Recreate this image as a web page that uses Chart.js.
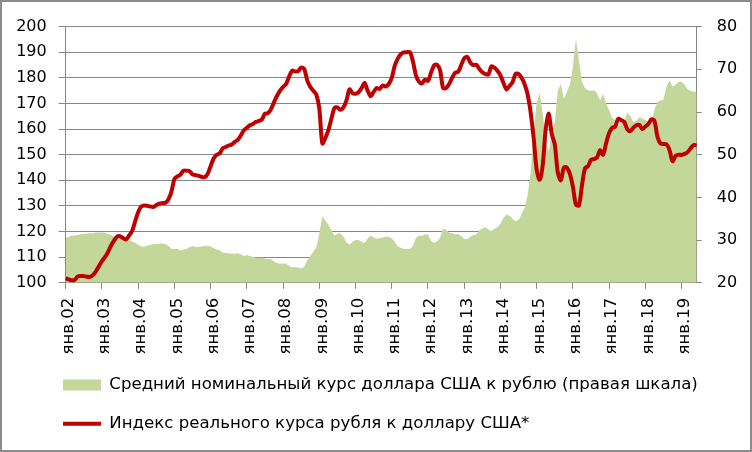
<!DOCTYPE html>
<html>
<head>
<meta charset="utf-8">
<script src="https://cdn.jsdelivr.net/npm/chart.js@4.4.1/dist/chart.umd.min.js"></script>
<style>
    html, body { margin: 0; padding: 0; background: #fff; }
    #wrap { position: absolute; left: 0; top: 0; width: 748px; height: 448px; border: 2px solid #8c8c8c; }
</style>
</head>
<body>
<div id="wrap"><canvas id="myChart"></canvas></div>
<script>
// Подписи месяцев и годов (ось X)
var monthNames = ['янв', 'фев', 'мар', 'апр', 'май', 'июн', 'июл', 'авг', 'сен', 'окт', 'ноя', 'дек'];
var years = ['02', '03', '04', '05', '06', '07', '08', '09', '10', '11', '12', '13', '14', '15', '16', '17', '18', '19'];
var lastYearMonths = 6; // данные по июнь 2019

// Индекс реального курса рубля к доллару США (левая шкала)
var realIndex = [
    101.8, 101.3, 101.0, 101.2, 102.5, 102.7, 102.6, 102.4, 102.3, 103.0, 104.5, 106.5,
    108.5, 110.0, 112.0, 114.5, 116.5, 118.0, 118.2, 117.5, 116.9, 118.5, 120.2, 124.0,
    127.5, 129.8, 130.2, 130.1, 129.8, 129.6, 130.3, 130.9, 131.1, 131.2, 132.5, 135.5,
    140.5, 141.5, 142.2, 143.8, 143.7, 143.6, 142.3, 142.0, 141.8, 141.3, 141.2, 142.5,
    145.5, 148.5, 150.0, 150.5, 152.5, 153.0, 153.6, 154.0, 155.0, 155.8, 157.5, 159.5,
    160.5, 161.5, 162.0, 162.8, 163.2, 163.8, 166.0, 166.2, 167.8, 170.5, 173.0, 175.0,
    176.5, 177.6, 180.5, 182.8, 182.5, 182.6, 184.0, 183.5, 179.0, 176.5, 175.0, 173.5,
    168.0, 154.4, 156.5, 159.6, 164.0, 168.2, 168.5, 167.5, 168.5, 171.2, 175.5, 174.0,
    173.8, 174.4, 176.0, 178.0, 175.0, 172.8, 174.5, 176.0, 175.7, 177.0, 176.6, 177.6,
    180.0, 184.8, 187.5, 189.2, 189.9, 190.0, 190.0, 186.5, 181.0, 178.5, 177.8, 179.3,
    178.8, 182.0, 184.8, 185.1, 183.0, 176.0, 176.0, 177.6, 180.0, 182.0, 182.4, 185.0,
    187.6, 188.2, 186.0, 185.0, 185.1, 183.5, 182.2, 181.5, 181.3, 184.5, 184.0, 182.8,
    181.0, 178.0, 175.5, 176.8, 178.3, 181.5, 181.5, 180.0, 177.5, 173.5, 166.5, 156.5,
    144.1, 140.2, 146.0, 160.0, 166.0, 158.0, 154.0, 143.0, 140.0, 145.0, 145.0, 142.5,
    137.5, 130.5, 130.2, 138.0, 144.7, 145.5, 148.0, 148.3, 149.0, 151.8, 150.0, 154.5,
    158.5, 160.5, 161.0, 164.0, 163.5, 162.8, 160.0, 159.2, 160.5, 161.5, 161.6, 160.0,
    161.0, 162.0, 163.8, 163.2, 157.0, 154.4, 154.2, 154.0, 151.8, 147.5, 149.5, 150.0,
    149.9, 150.3, 151.0, 152.5, 153.8, 153.6
];

// Средний номинальный курс доллара США к рублю (правая шкала)
var nominalRate = [
    30.5, 30.8, 31.0, 31.1, 31.2, 31.4, 31.5, 31.5, 31.6, 31.6, 31.8, 31.8,
    31.8, 31.7, 31.4, 31.2, 30.8, 30.5, 30.3, 30.4, 30.6, 30.1, 29.7, 29.4,
    28.9, 28.5, 28.5, 28.7, 28.9, 29.0, 29.1, 29.2, 29.2, 29.1, 28.7, 28.0,
    27.9, 27.9, 27.6, 27.8, 27.9, 28.3, 28.6, 28.4, 28.4, 28.5, 28.6, 28.7,
    28.5, 28.1, 27.8, 27.6, 27.1, 27.0, 26.9, 26.8, 26.8, 26.9, 26.7, 26.3,
    26.5, 26.3, 26.1, 25.9, 25.8, 25.9, 25.7, 25.6, 25.6, 25.0, 24.6, 24.5,
    24.5, 24.5, 24.0, 23.6, 23.7, 23.6, 23.4, 23.7, 25.2, 26.3, 27.3, 28.2,
    31.5, 35.6, 34.6, 33.6, 32.3, 31.1, 31.5, 31.6, 30.8, 29.5, 28.9, 29.6,
    30.0, 30.0, 29.6, 29.3, 30.4, 31.1, 30.6, 30.3, 30.5, 30.6, 30.8, 30.8,
    30.4, 29.6, 28.5, 28.2, 27.9, 27.9, 27.9, 28.6, 30.5, 31.1, 31.0, 31.3,
    31.3, 29.8, 29.4, 29.6, 30.6, 32.7, 32.4, 31.7, 31.6, 31.3, 31.4, 30.9,
    30.3, 30.2, 30.8, 31.2, 31.3, 32.3, 32.7, 33.0, 32.5, 32.1, 32.7, 33.0,
    33.8, 35.2, 36.0, 35.7, 35.0, 34.4, 34.7, 36.1, 37.6, 40.5, 46.0, 55.3,
    62.3, 64.5, 59.6, 54.0, 50.7, 55.3, 57.7, 65.0, 66.6, 63.1, 64.7, 66.5,
    70.5, 77.2, 72.0, 67.0, 65.6, 65.1, 65.0, 65.1, 64.4, 62.7, 64.3, 62.0,
    60.4, 58.6, 58.1, 56.8, 57.3, 57.7, 59.8, 59.0, 57.7, 57.9, 58.8, 58.4,
    58.1, 57.7, 57.5, 60.5, 62.4, 62.7, 62.9, 66.0, 67.4, 66.0, 66.4, 67.0,
    67.1, 66.4, 65.3, 64.9, 64.8, 64.6
];

// Собираем подписи вида "янв.02"
var labels = [];
years.forEach(function (yy, i) {
    var n = (i === years.length - 1) ? lastYearMonths : 12;
    for (var m = 0; m < n; m++) labels.push(monthNames[m] + '.' + yy);
});

var gridColor = '#868686';
var tickFont = { family: 'DejaVu Sans', size: 16 };

// Сдвигаем легенду вправо, чтобы она начиналась под осью, как в оригинале
var legendShift = {
    id: 'legendShift',
    afterLayout: function (chart) {
        if (chart.legend) {
            chart.legend.left += 39;
            chart.legend.right += 39;
        }
    }
};

var ctx = document.getElementById('myChart').getContext('2d');
var myChart = new Chart(ctx, {
    type: 'line',
    data: {
        labels: labels,
        datasets: [{
            label: 'Индекс реального курса рубля к доллару США*',
            data: realIndex,
            yAxisID: 'y',
            borderColor: '#C00000',
            backgroundColor: '#C00000',
            borderWidth: 4,
            pointRadius: 0,
            pointStyle: 'line',
            tension: 0.3,
            borderJoinStyle: 'round',
            fill: false
        }, {
            label: 'Средний номинальный курс доллара США к рублю (правая шкала)',
            data: nominalRate,
            yAxisID: 'y1',
            borderColor: '#C4D79B',
            backgroundColor: '#C4D79B',
            borderWidth: 0,
            pointRadius: 0,
            pointStyle: 'rect',
            tension: 0,
            fill: 'start'
        }]
    },
    plugins: [legendShift],
    options: {
        responsive: true,
        maintainAspectRatio: false,
        animation: false,
        layout: { padding: { left: 0, right: 0, top: 22, bottom: 8 } },
        plugins: {
            tooltip: { enabled: false },
            legend: {
                position: 'bottom',
                align: 'start',
                labels: {
                    usePointStyle: true,
                    pointStyleWidth: 38,
                    boxHeight: 11,
                    padding: 22,
                    color: '#000',
                    font: { family: 'DejaVu Sans', size: 16.6 },
                    sort: function (a, b) { return b.datasetIndex - a.datasetIndex; }
                }
            }
        },
        scales: {
            x: {
                offset: false,
                afterFit: function (scale) { scale.height = 72; },
                border: { display: true, color: gridColor, width: 1 },
                grid: {
                    drawOnChartArea: false,
                    tickLength: 6,
                    color: function (c) { return c.index % 12 === 0 ? gridColor : 'rgba(0,0,0,0)'; }
                },
                ticks: {
                    autoSkip: false,
                    minRotation: 90,
                    maxRotation: 90,
                    padding: 9,
                    labelOffset: 3,
                    color: '#000',
                    font: { family: 'DejaVu Sans', size: 16.5 },
                    callback: function (v, i) { return i % 12 === 0 ? labels[i] : ''; }
                }
            },
            y: {
                position: 'left',
                min: 100,
                max: 200,
                afterFit: function (scale) { scale.width = 63.7; },
                border: { display: true, color: gridColor, width: 1 },
                grid: { color: gridColor, lineWidth: 1, tickLength: 7 },
                ticks: { stepSize: 10, padding: 12, color: '#000', font: tickFont }
            },
            y1: {
                position: 'right',
                min: 20,
                max: 80,
                afterFit: function (scale) { scale.width = 53.3; },
                border: { display: true, color: gridColor, width: 1 },
                grid: { drawOnChartArea: false, color: gridColor, tickLength: 5 },
                ticks: { stepSize: 10, padding: 15, color: '#000', font: tickFont }
            }
        }
    }
});
</script>
</body>
</html>
